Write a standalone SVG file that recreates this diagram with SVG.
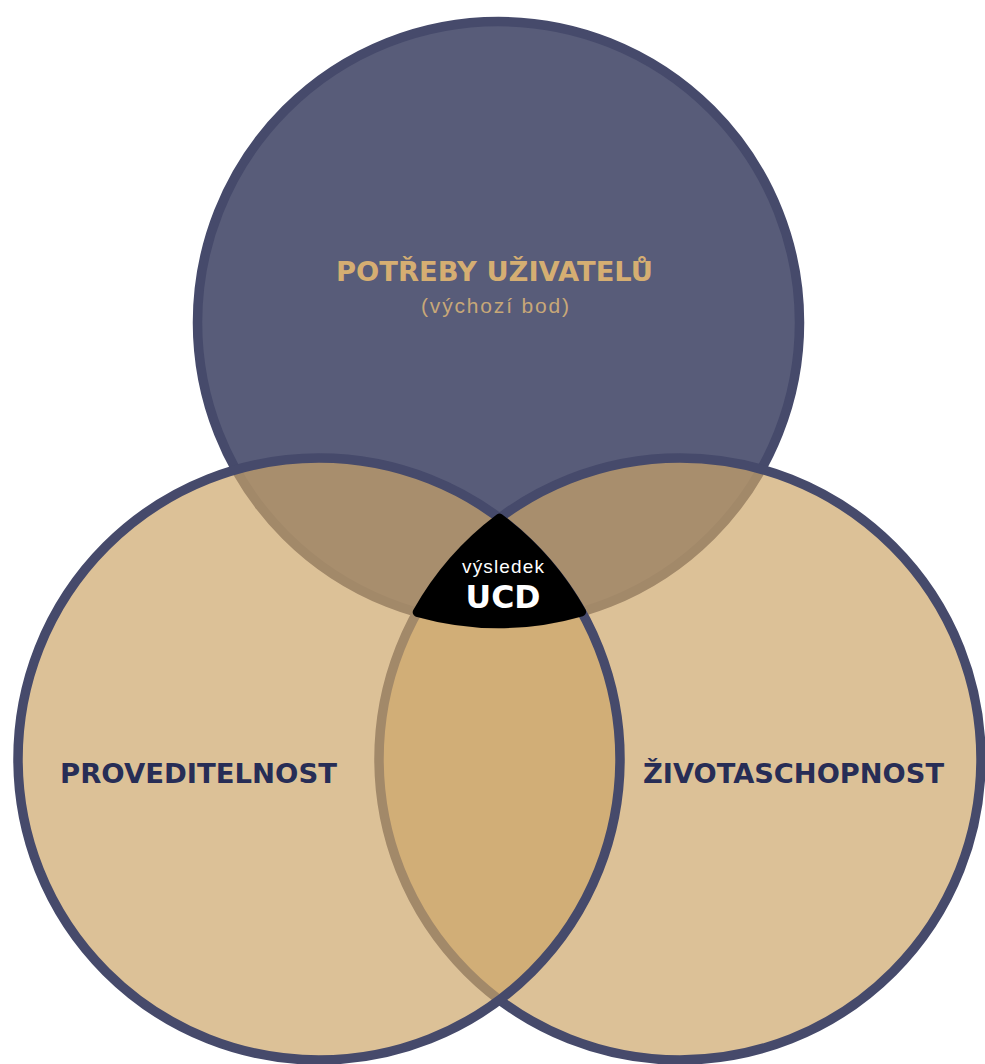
<svg xmlns="http://www.w3.org/2000/svg" width="985" height="1064" viewBox="0 0 985 1064">
<style>
.ring{stroke:#464a6b;stroke-width:9.5}
.bottom{fill:#cca568;fill-opacity:0.69}
.lbl{font-family:"DejaVu Sans","Liberation Sans",Arial,sans-serif;font-weight:bold;font-size:26.5px;fill:#272d56;text-anchor:middle}
</style>
<rect width="985" height="1064" fill="#ffffff"/>
<g id="node-potreby">
<circle class="ring" cx="498.5" cy="322.5" r="301" fill="#585c79"/>
</g>
<g id="node-zivotaschopnost">
<circle class="ring bottom" cx="680" cy="759" r="301"/>
</g>
<g id="node-proveditelnost">
<circle class="ring bottom" cx="319" cy="759" r="301"/>
</g>
<g id="node-ucd">
<path d="M499.5,518.1 A301,301 0 0 0 417.2,612.3 A301,301 0 0 0 581.6,611.8 A301,301 0 0 0 499.5,518.1 Z" fill="#000000" stroke="#000000" stroke-width="9" stroke-linejoin="round"/>
<text x="503" y="573" font-family="'Liberation Sans',Arial,sans-serif" font-size="19" fill="#ffffff" text-anchor="middle" textLength="82" lengthAdjust="spacing">výsledek</text>
<text x="503" y="608" font-family="'DejaVu Sans','Liberation Sans',Arial,sans-serif" font-weight="bold" font-size="32" fill="#ffffff" text-anchor="middle" textLength="75" lengthAdjust="spacingAndGlyphs">UCD</text>
</g>
<g id="labels">
<text x="494.5" y="281" class="lbl" style="fill:#d5ae72" textLength="317" lengthAdjust="spacingAndGlyphs">POTŘEBY UŽIVATELŮ</text>
<text x="495" y="313" font-family="'Liberation Sans',Arial,sans-serif" font-size="21" fill="#c8a878" text-anchor="middle" textLength="148" lengthAdjust="spacing">(výchozí bod)</text>
<text x="198.5" y="783" class="lbl" textLength="277" lengthAdjust="spacingAndGlyphs">PROVEDITELNOST</text>
<text x="793.5" y="783" class="lbl" textLength="301" lengthAdjust="spacingAndGlyphs">ŽIVOTASCHOPNOST</text>
</g>
</svg>
